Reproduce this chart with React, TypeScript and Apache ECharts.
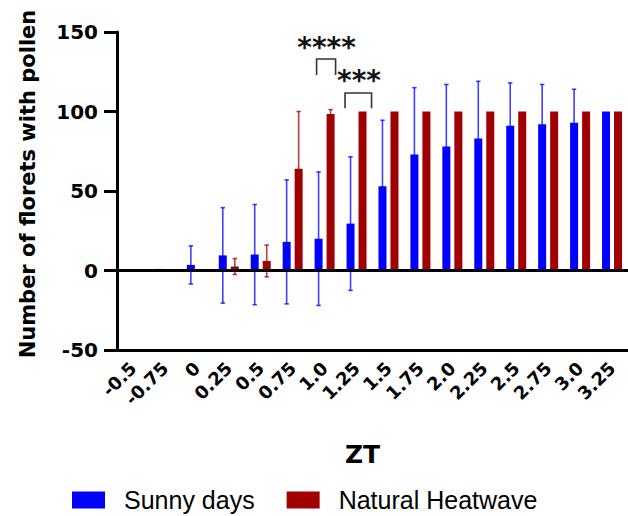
import React, { useEffect, useRef } from "react";
import * as echarts from "echarts";

const categories = ["-0.5", "-0.75", "0", "0.25", "0.5", "0.75", "1.0", "1.25", "1.5", "1.75", "2.0", "2.25", "2.5", "2.75", "3.0", "3.25"];
const sunnyMean = [null, 1, 3.5, 9.5, 10, 18, 20, 29.5, 53, 73, 78, 83, 91, 92, 93, 100];
const sunnySD = [null, 0, 12, 30, 31.5, 39, 42, 42, 41.5, 42, 39, 36, 27, 25, 21, 0];
const heatMean = [null, null, null, 2.5, 6, 64, 98.5, 100, 100, 100, 100, 100, 100, 100, 100, 100];
const heatSD = [null, null, null, 5, 10, 36, 2.7, 0, 0, 0, 0, 0, 0, 0, 0, 0];
const yTicks = { min: -50, max: 150, interval: 50 };

// significance annotations: category index, bracket top, leg bottom, label centre (data units)
const sigLabels = ["****", "***"];
const sigCategory = [6, 7];
const sigBracketTop = [133, 111.6];
const sigLegBottom = [123, 102];
const sigLabelY = [140, 119.5];
// layout (pixels relative to category centre)
const SIG_LAYOUT = [
  { left: -8, right: 11, text: 2 },
  { left: -11.5, right: 15, text: 2.5 },
];

const BLUE = "#0000ff";
const RED = "#a00000";
const BAR_W = 8;
const BAR_GAP_PX = 4;
const OFFSET = (BAR_W + BAR_GAP_PX) / 2;
const FONT = "'DejaVu Sans', sans-serif";

function errData(mean: (number | null)[], sd: (number | null)[]) {
  const out: number[][] = [];
  mean.forEach((m, i) => {
    const s = sd[i];
    if (m != null && s != null && s > 0) out.push([i, m, s]);
  });
  return out;
}

function errRenderer(dx: number, color: string) {
  return (params: any, api: any) => {
    const x = api.value(0);
    const m = api.value(1);
    const s = api.value(2);
    const top = api.coord([x, m + s]);
    const bot = api.coord([x, m - s]);
    const px = top[0] + dx;
    const cw = 2.2;
    const st = { stroke: color, lineWidth: 1.6, opacity: 0.75 };
    return {
      type: "group",
      children: [
        { type: "line", shape: { x1: px, y1: top[1], x2: px, y2: bot[1] }, style: st },
        { type: "line", shape: { x1: px - cw, y1: top[1], x2: px + cw, y2: top[1] }, style: st },
        { type: "line", shape: { x1: px - cw, y1: bot[1], x2: px + cw, y2: bot[1] }, style: st },
      ],
    };
  };
}

export default function App() {
  const ref = useRef<HTMLDivElement>(null);
  useEffect(() => {
    document.body.style.margin = "0";
    if (!ref.current) return;
    const chart = echarts.init(ref.current, undefined, { renderer: "svg" });
    const option: any = {
      animation: false,
      backgroundColor: "#ffffff",
      grid: { left: 117, right: 0, top: 32, bottom: 166, containLabel: false, outerBoundsMode: "none" },
      legend: {
        data: ["Sunny days", "Natural Heatwave"],
        left: 72,
        top: 486,
        padding: 0,
        icon: "rect",
        itemWidth: 33,
        itemHeight: 17,
        itemGap: 32,
        textStyle: { fontSize: 25, lineHeight: 28, color: "#000", fontFamily: "'Liberation Sans', Arial, sans-serif", padding: [0, 0, 0, 14] },
      },
      xAxis: {
        type: "category",
        data: categories,
        position: "bottom",
        name: "ZT",
        nameLocation: "middle",
        nameGap: 92,
        nameTextStyle: { fontSize: 25, fontWeight: "bold", color: "#000", fontFamily: FONT, padding: [0, 20, 0, 0] },
        axisLine: { onZero: false, lineStyle: { color: "#000", width: 3 } },
        axisTick: { alignWithLabel: true, length: 11, lineStyle: { color: "#000", width: 3 } },
        axisLabel: { rotate: 45, interval: 0, hideOverlap: false, margin: 15, fontSize: 18, fontWeight: "bold", color: "#000", fontFamily: FONT },
        splitLine: { show: false },
      },
      yAxis: {
        type: "value",
        min: yTicks.min,
        max: yTicks.max,
        interval: yTicks.interval,
        name: "Number of florets with pollen",
        nameLocation: "middle",
        nameGap: 79,
        nameTextStyle: { fontSize: 21, fontWeight: "bold", color: "#000", fontFamily: FONT, padding: [0, 0, 0, 14] },
        axisLine: { show: true, lineStyle: { color: "#000", width: 3 } },
        axisTick: { show: true, length: 13, lineStyle: { color: "#000", width: 3 } },
        axisLabel: { fontSize: 20, fontWeight: "bold", color: "#000", fontFamily: FONT, margin: 19 },
        splitLine: { show: false },
      },
      series: [
        {
          name: "sunnyErr",
          type: "custom",
          z: 1,
          silent: true,
          data: errData(sunnyMean, sunnySD),
          encode: { x: 0, y: 1 },
          renderItem: errRenderer(-OFFSET, BLUE),
        },
        {
          name: "heatErr",
          type: "custom",
          z: 1,
          silent: true,
          data: errData(heatMean, heatSD),
          encode: { x: 0, y: 1 },
          renderItem: errRenderer(OFFSET, RED),
        },
        {
          name: "Sunny days",
          type: "bar",
          z: 2,
          barWidth: BAR_W,
          barGap: "50%",
          itemStyle: { color: BLUE },
          data: sunnyMean.map((v) => (v == null ? "-" : v)),
          markLine: {
            silent: true,
            symbol: "none",
            label: { show: false },
            lineStyle: { color: "#000", width: 3, type: "solid" },
            data: [{ yAxis: 0 }],
          },
        },
        {
          name: "Natural Heatwave",
          type: "bar",
          z: 2,
          barWidth: BAR_W,
          barGap: "50%",
          itemStyle: { color: RED },
          data: heatMean.map((v) => (v == null ? "-" : v)),
        },
        {
          name: "sig",
          type: "custom",
          z: 3,
          silent: true,
          data: sigCategory.map((c, i) => [c, sigBracketTop[i]]),
          encode: { x: 0, y: 1 },
          renderItem: (params: any, api: any) => {
            const i = params.dataIndex;
            const lay = SIG_LAYOUT[i];
            const c = sigCategory[i];
            const top = api.coord([c, sigBracketTop[i]]);
            const leg = api.coord([c, sigLegBottom[i]]);
            const lab = api.coord([c, sigLabelY[i]]);
            const cx = top[0];
            return {
              type: "group",
              children: [
                {
                  type: "polyline",
                  shape: {
                    points: [
                      [cx + lay.left, leg[1]],
                      [cx + lay.left, top[1]],
                      [cx + lay.right, top[1]],
                      [cx + lay.right, leg[1]],
                    ],
                  },
                  style: { stroke: "#333", lineWidth: 1.6, fill: "none" },
                },
                {
                  type: "text",
                  style: {
                    text: sigLabels[i],
                    x: cx + lay.text,
                    y: lab[1],
                    align: "center",
                    verticalAlign: "middle",
                    fontSize: 28,
                    fontWeight: "bold",
                    fontFamily: FONT,
                    fill: "#111",
                  },
                },
              ],
            };
          },
        },
      ],
    };
    chart.setOption(option);
    return () => chart.dispose();
  }, []);
  return <div ref={ref} style={{ width: 628, height: 516 }} />;
}
